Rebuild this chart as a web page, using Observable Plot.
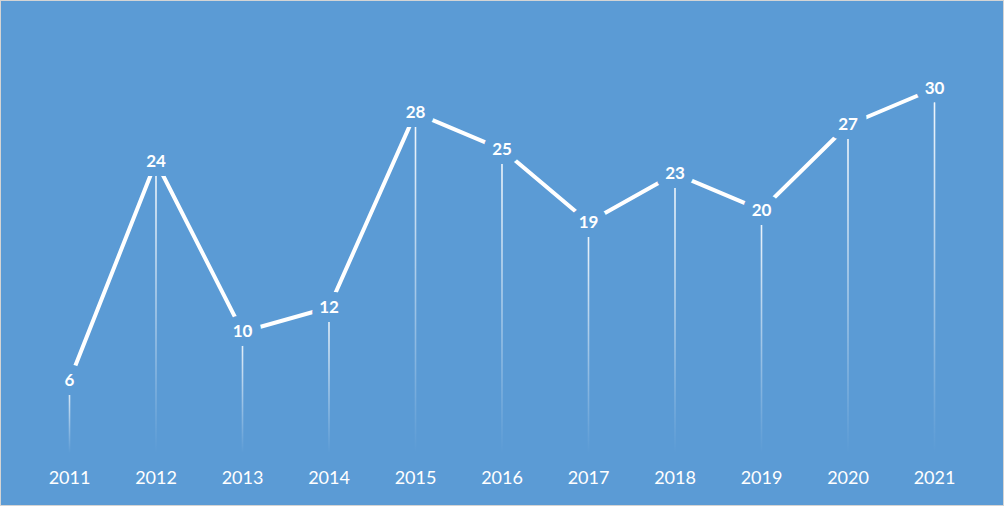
<!DOCTYPE html>
<html>
<head>
<meta charset="utf-8">
<script src="https://cdn.jsdelivr.net/npm/d3@7"></script>
<script src="https://cdn.jsdelivr.net/npm/@observablehq/plot@0.6"></script>
<style>
  html, body { margin: 0; padding: 0; background: #5B9BD5; }
  #wrap { position: relative; width: 1004px; height: 506px; overflow: hidden; }
  #border { position: absolute; left: 0; top: 0; width: 1004px; height: 506px; box-sizing: border-box; border: 1px solid #d4d4d4; pointer-events: none; }
  svg { display: block; }
</style>
</head>
<body>
<div id="wrap"><div id="border"></div></div>
<script>
const years = ["2011","2012","2013","2014","2015","2016","2017","2018","2019","2020","2021"];
const values = [6, 24, 10, 12, 28, 25, 19, 23, 20, 27, 30];

const bg = "#5B9BD5";
const data = years.map((y, i) => ({year: y, value: values[i]}));

const chart = Plot.plot({
  width: 1004,
  height: 506,
  marginLeft: 69,
  marginRight: 70,
  marginTop: 88,
  marginBottom: 53,
  style: {background: bg, fontFamily: "Lato, 'Open Sans', sans-serif", overflow: "visible"},
  x: {type: "point", domain: years, padding: 0, round: false, axis: null},
  y: {domain: [0, 30], axis: null},
  marks: [
    Plot.ruleX(data, {x: "year", y1: 0, y2: "value", stroke: "white", strokeWidth: 1.6}),
    Plot.line(data, {x: "year", y: "value", stroke: "white", strokeWidth: 4, strokeLinejoin: "round"}),
    Plot.text(data, {x: "year", y: "value", text: d => String(d.value), fill: "white", stroke: bg, strokeWidth: 18, strokeLinejoin: "round", fontWeight: "bold", fontSize: 17, fontFamily: "Lato, sans-serif"}),
    Plot.axisX({domain: years, label: null, tickSize: 0, tickPadding: 18, fontSize: 18, color: "white", fill: "white", fontFamily: "Lato, sans-serif"})
  ]
});

// per-line fading gradients for drop lines
const ns = "http://www.w3.org/2000/svg";
const defs = document.createElementNS(ns, "defs");
chart.insertBefore(defs, chart.firstChild);
chart.querySelectorAll('g[aria-label="rule"] line').forEach((ln, i) => {
  const y1 = +ln.getAttribute("y1"), y2 = +ln.getAttribute("y2");
  const top = Math.min(y1, y2), bot = Math.max(y1, y2);
  const g = document.createElementNS(ns, "linearGradient");
  g.setAttribute("id", "drop" + i);
  g.setAttribute("gradientUnits", "userSpaceOnUse");
  g.setAttribute("x1", 0); g.setAttribute("x2", 0);
  g.setAttribute("y1", top); g.setAttribute("y2", bot);
  const s1 = document.createElementNS(ns, "stop");
  s1.setAttribute("offset", "0"); s1.setAttribute("stop-color", "white"); s1.setAttribute("stop-opacity", "0.95");
  const s2 = document.createElementNS(ns, "stop");
  s2.setAttribute("offset", "1"); s2.setAttribute("stop-color", "white"); s2.setAttribute("stop-opacity", "0");
  g.appendChild(s1); g.appendChild(s2);
  defs.appendChild(g);
  ln.setAttribute("stroke", "url(#drop" + i + ")");
});

document.getElementById("wrap").insertBefore(chart, document.getElementById("border"));
</script>
</body>
</html>
